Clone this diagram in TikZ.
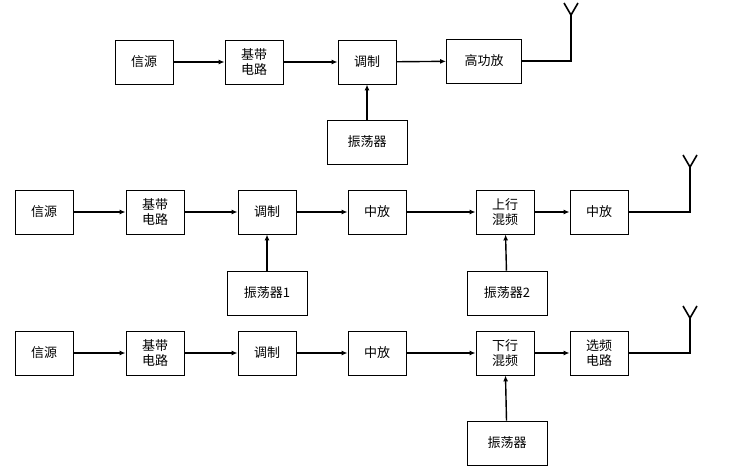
\documentclass[tikz,border=0pt]{standalone}
\usepackage{fontspec}
\setmainfont{Noto Sans CJK SC}
\usetikzlibrary{arrows.meta}
\tikzset{
  blk/.style={draw, line width=0.9pt, minimum width=58pt, minimum height=44pt, inner sep=1pt, align=center, font=\fontsize{13}{15}\selectfont},
  osc/.style={blk, minimum width=80pt},
  sig/.style={line width=1.4pt, -{Latex[length=6pt,width=5pt]}},
  ant/.style={line width=1.6pt}
}
\newcommand{\antenna}[3]{% start node, x of mast, top y
  \draw[ant] (#1.east) -| (#2,#3) -- +(-7,-12);
  \draw[ant] (#2,#3) -- +(7,-12);
}
\begin{document}
\begin{tikzpicture}[x=1pt,y=-1pt]
  \useasboundingbox (0,0) rectangle (734,471);

  % first row
  \node[blk] (src1) at (144,62) {信源};
  \node[blk] (base1) at (254,62) {基带\\电路};
  \node[blk] (mod1) at (367,62) {调制};
  \node[blk, minimum width=75pt] (pa1) at (484,61) {高功放};
  \node[osc] (osc1) at (367,142) {振荡器};
  \draw[sig] (src1) -- (base1);
  \draw[sig] (base1) -- (mod1);
  \draw[sig] (mod1) -- (pa1);
  \draw[sig] (osc1) -- (mod1);
  \draw[ant] (pa1.east) -| (571,15) -- (564,3);
  \draw[ant] (571,15) -- (578,3);

  % second row
  \node[blk] (src2) at (44,212) {信源};
  \node[blk] (base2) at (155,212) {基带\\电路};
  \node[blk] (mod2) at (267,212) {调制};
  \node[blk] (if2) at (377,212) {中放};
  \node[blk] (up2) at (505,212) {上行\\混频};
  \node[blk] (amp2) at (599,212) {中放};
  \node[osc] (osca2) at (267,293) {振荡器1};
  \node[osc] (oscb2) at (507,293) {振荡器2};
  \draw[sig] (src2) -- (base2);
  \draw[sig] (base2) -- (mod2);
  \draw[sig] (mod2) -- (if2);
  \draw[sig] (if2) -- (up2);
  \draw[sig] (up2) -- (amp2);
  \draw[sig] (osca2) -- (mod2);
  \draw[sig] (oscb2) -- (up2);
  \draw[ant] (amp2.east) -| (690,167) -- (683,155);
  \draw[ant] (690,167) -- (697,155);

  % third row
  \node[blk] (src3) at (44,353) {信源};
  \node[blk] (base3) at (155,353) {基带\\电路};
  \node[blk] (mod3) at (267,353) {调制};
  \node[blk] (if3) at (377,353) {中放};
  \node[blk] (down3) at (505,353) {下行\\混频};
  \node[blk] (sel3) at (599,353) {选频\\电路};
  \node[osc] (osc3) at (507,443) {振荡器};
  \draw[sig] (src3) -- (base3);
  \draw[sig] (base3) -- (mod3);
  \draw[sig] (mod3) -- (if3);
  \draw[sig] (if3) -- (down3);
  \draw[sig] (down3) -- (sel3);
  \draw[sig] (osc3) -- (down3);
  \draw[ant] (sel3.east) -| (690,318) -- (683,306);
  \draw[ant] (690,318) -- (697,306);
\end{tikzpicture}
\end{document}
